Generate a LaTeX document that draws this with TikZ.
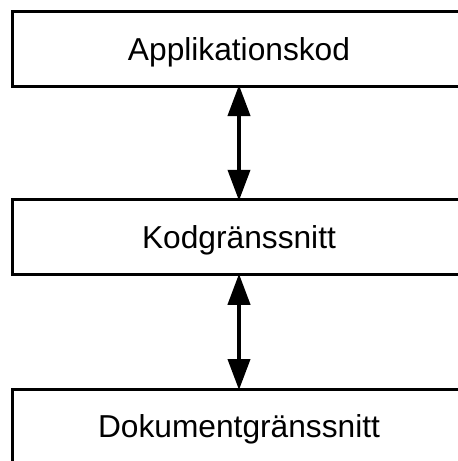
\documentclass[tikz,border=0pt]{standalone}
\usepackage{fontspec}
\setmainfont{Liberation Sans}
\usetikzlibrary{arrows.meta}
\begin{document}
\begin{tikzpicture}[x=1pt,y=-1pt,
  layerbox/.style={draw=black, line width=3pt, rectangle, minimum width=454pt, minimum height=75pt, inner sep=0pt, outer sep=0pt},
  layerlabel/.style={anchor=base, inner sep=0pt, font=\fontsize{31.7}{38}\selectfont},
  biarrow/.style={line width=4pt, {Triangle[length=31pt,width=22pt]}-{Triangle[length=31pt,width=22pt]}, shorten <=-1pt, shorten >=-1pt}]
\useasboundingbox (0,0) rectangle (458,461);
\clip (0,0) rectangle (458,461);
\node[layerbox] (b1) at (239,48.5) {};
\node[layerbox] (b2) at (239,237.25) {};
\node[layerbox] (b3) at (239,426.5) {};
\node[layerlabel] (t1) at ([yshift=-49pt]b1.north) {Applikationskod};
\node[layerlabel] (t2) at ([yshift=-49pt]b2.north) {Kodgränssnitt};
\node[layerlabel] (t3) at ([yshift=-48pt]b3.north) {Dokumentgränssnitt};
\draw[biarrow] (b1.south) -- (b2.north);
\draw[biarrow] (b2.south) -- (b3.north);
\end{tikzpicture}
\end{document}
